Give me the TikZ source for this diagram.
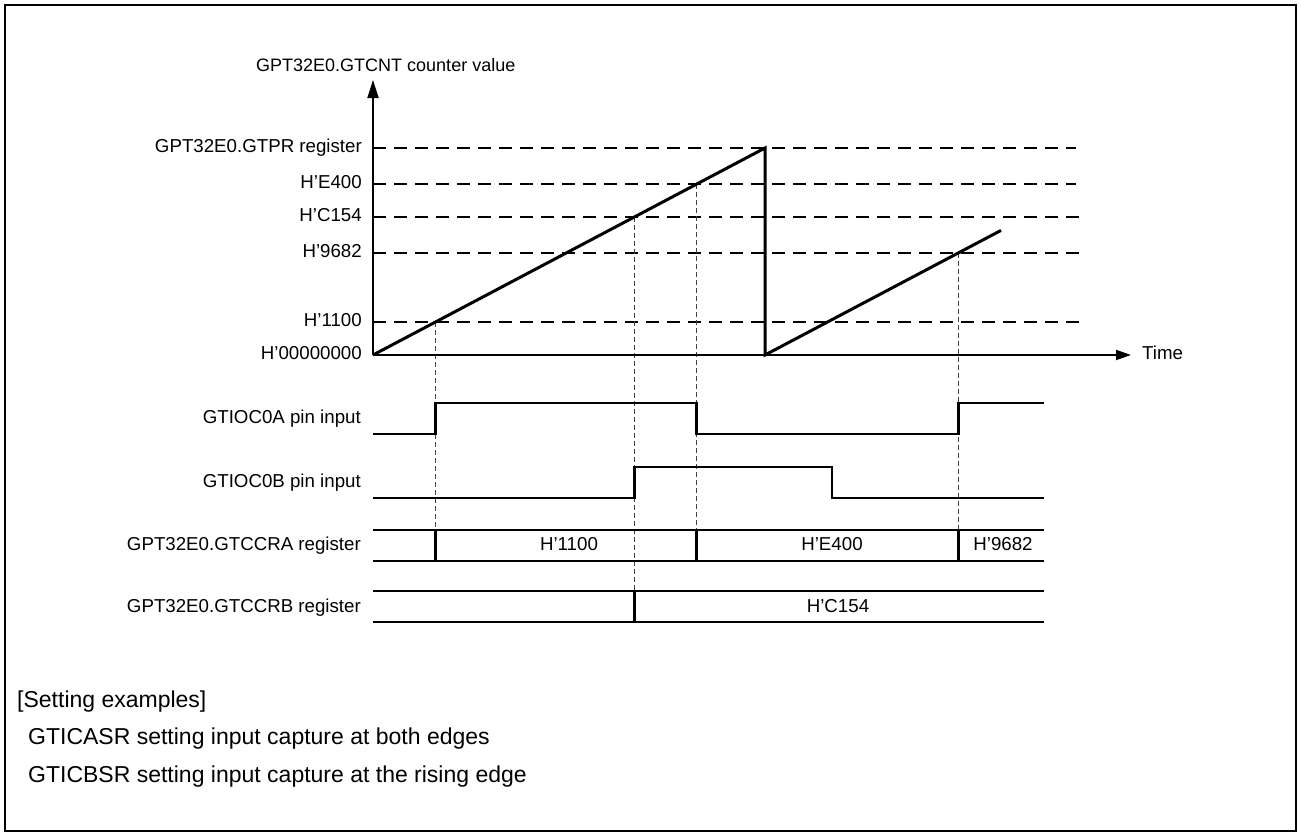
\documentclass[tikz,border=0pt]{standalone}
\usepackage{fontspec}
\setmainfont{Liberation Sans}
\usetikzlibrary{arrows.meta}
\begin{document}
\begin{tikzpicture}[x=1pt,y=-1pt,
  lbl/.style={font=\fontsize{18.7}{22}\selectfont, inner sep=0pt, text height=0.716em, text depth=0pt, yshift=-1pt},
  toplbl/.style={font=\fontsize{18}{21}\selectfont, inner sep=0pt, text height=0.716em, text depth=0pt},
  note/.style={font=\fontsize{23}{27}\selectfont, inner sep=0pt, text height=0.716em, text depth=0pt, anchor=west},
  frame/.style={line width=2.5pt},
  axis/.style={line width=1.8pt},
  ramp/.style={line width=3pt, line join=miter},
  wave/.style={line width=2.8pt, line join=miter},
  hdash/.style={line width=1.6pt, dash pattern=on 13pt off 8pt},
  vdash/.style={line width=1pt, dash pattern=on 5pt off 3pt, black!75},
  ]
\useasboundingbox (0,0) rectangle (1301,836);
\draw[frame] (5,5) rectangle (1296,831);

% key points of the counter
\coordinate (O) at (373,355);
\coordinate (P) at (765,148);
\coordinate (Q) at (765,355);
\coordinate (R) at (1001,230.4);
\coordinate (Ytop) at (373,80);
\coordinate (Xend) at (1131,355);

% level lines
\coordinate (Lpra) at (373,148);  \coordinate (Lprb) at (1076,148);
\coordinate (Lea)  at (373,184);  \coordinate (Leb)  at (1076,184);
\coordinate (Lca)  at (373,217);  \coordinate (Lcb)  at (1084,217);
\coordinate (Lna)  at (373,253);  \coordinate (Lnb)  at (1084,253);
\coordinate (Loa)  at (373,322);  \coordinate (Lob)  at (1084,322);

\coordinate (e1) at (intersection of O--P and Loa--Lob);
\coordinate (e2) at (intersection of O--P and Lca--Lcb);
\coordinate (e3) at (intersection of O--P and Lea--Leb);
\coordinate (e4) at (intersection of Q--R and Lna--Lnb);

% signal rows
\coordinate (Ahi) at (373,403); \coordinate (Alo) at (373,434);
\coordinate (Bhi) at (373,467); \coordinate (Blo) at (373,498);
\coordinate (CAt) at (373,530); \coordinate (CAb) at (373,561);
\coordinate (CBt) at (373,591); \coordinate (CBb) at (373,622);
\coordinate (Bfall) at (832,467);
\coordinate (Xr) at (1044,355);

% dashed level lines
\foreach \a/\b in {Lpra/Lprb,Lea/Leb,Lca/Lcb,Lna/Lnb,Loa/Lob}
  \draw[hdash] (\a) -- (\b);

% vertical dashed guides
\draw[vdash] (e1) -- (e1 |- CAt);
\draw[vdash] (e2) -- (e2 |- CBt);
\draw[vdash] (e3) -- (e3 |- CAt);
\draw[vdash] (e4) -- (e4 |- CAt);

% axes
\draw[axis,-{Triangle[length=18pt,width=11pt]}] (O) -- (Ytop);
\draw[axis,-{Triangle[length=15pt,width=10pt]}] (O) -- (Xend);

% sawtooth
\draw[ramp] (O) -- (P) -- (Q) -- (R);

% GTIOC0A
\draw[wave] (Alo) -- (e1 |- Alo) -- (e1 |- Ahi) -- (e3 |- Ahi) -- (e3 |- Alo)
  -- (e4 |- Alo) -- (e4 |- Ahi) -- (Xr |- Ahi);
% GTIOC0B
\draw[wave] (Blo) -- (e2 |- Blo) -- (e2 |- Bhi) -- (Bfall) -- (Bfall |- Blo) -- (Xr |- Blo);
% GTCCRA
\draw[wave] (CAt) -- (Xr |- CAt);
\draw[wave] (CAb) -- (Xr |- CAb);
\foreach \e in {e1,e3,e4} \draw[wave] (\e |- CAt) -- (\e |- CAb);
% GTCCRB
\draw[wave] (CBt) -- (Xr |- CBt);
\draw[wave] (CBb) -- (Xr |- CBb);
\draw[wave] (e2 |- CBt) -- (e2 |- CBb);

% labels
\node[toplbl, anchor=west] (ylab) at (256,68) {GPT32E0.GTCNT counter value};
\node[lbl, anchor=east] (lpr) at (362,148) {GPT32E0.GTPR register};
\node[lbl, anchor=east] (le) at (362,184) {H’E400};
\node[lbl, anchor=east] (lc) at (362,217) {H’C154};
\node[lbl, anchor=east] (ln) at (362,253) {H’9682};
\node[lbl, anchor=east] (lo) at (362,322) {H’1100};
\node[lbl, anchor=east] (lz) at (362,355) {H’00000000};
\node[lbl, anchor=west] (time) at (1142,355) {Time};

\node[lbl, anchor=east] (sa) at (361,419) {GTIOC0A pin input};
\node[lbl, anchor=east] (sb) at (361,483) {GTIOC0B pin input};
\node[lbl, anchor=east] (sca) at (361,546) {GPT32E0.GTCCRA register};
\node[lbl, anchor=east] (scb) at (361,608) {GPT32E0.GTCCRB register};

\node[lbl] (va) at (569,546) {H’1100};
\node[lbl] (vb) at (832,546) {H’E400};
\node[lbl] (vc) at (1003,546) {H’9682};
\node[lbl] (vd) at (838,608) {H’C154};

\node[note] (n1) at (17,704) {[Setting examples]};
\node[note] (n2) at (28,741) {GTICASR setting input capture at both edges};
\node[note] (n3) at (28,779) {GTICBSR setting input capture at the rising edge};
\end{tikzpicture}
\end{document}
